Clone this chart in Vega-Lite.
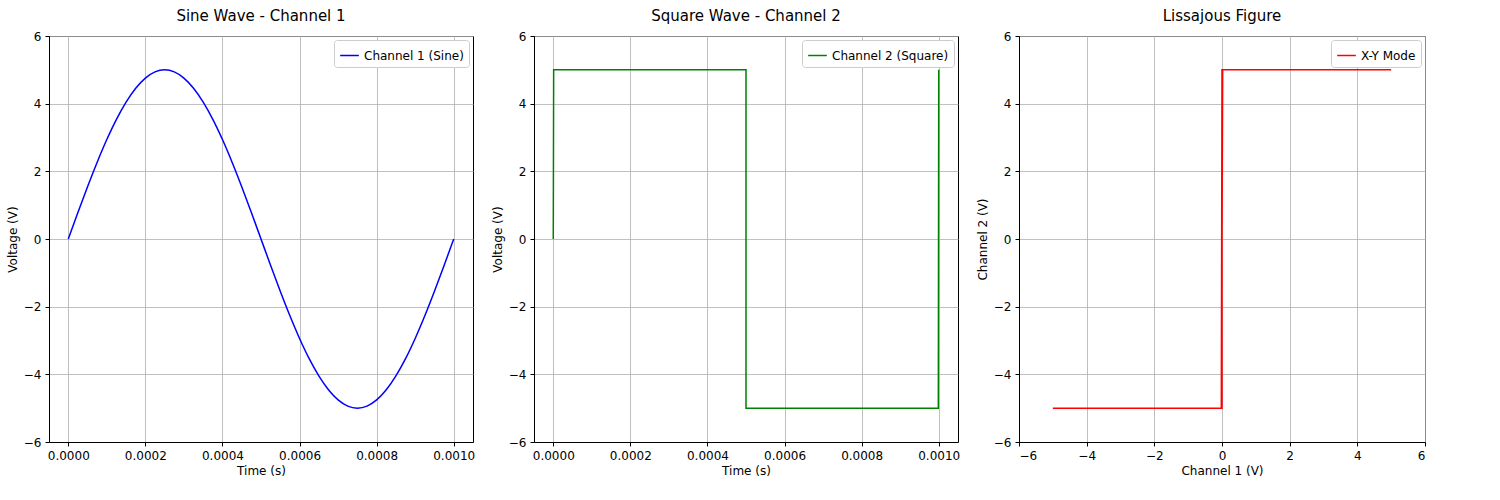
{
"$schema":"https://vega.github.io/schema/vega-lite/v6.json",
"background":"white",
"padding":{"left":5,"top":8,"right":5,"bottom":5},
"spacing":14,
"config":{
 "font":"DejaVu Sans",
 "view":{"stroke":"black","strokeWidth":1},
 "axis":{"grid":true,"gridColor":"#b0b0b0","gridOpacity":1,"gridWidth":0.8,"domainColor":"black","tickColor":"black","labelColor":"black","titleColor":"black","labelFontSize":12,"titleFontSize":12,"titleFontWeight":"normal","labelFont":"DejaVu Sans","titleFont":"DejaVu Sans","tickSize":4,"labelPadding":4},
 "title":{"fontSize":15,"fontWeight":"normal","font":"DejaVu Sans","offset":6},
 "legend":{"orient":"top-right","offset":4,"strokeColor":"#cccccc","fillColor":"white","padding":5,"cornerRadius":3,"symbolType":"stroke","symbolStrokeWidth":1.5,"symbolSize":350,"labelFontSize":12,"labelFont":"DejaVu Sans","title":null}
},
"datasets":{
 "sine":[
 {"t":0,"v":0},{"t":0.000025,"v":0.782},{"t":0.00005,"v":1.545},{"t":0.000075,"v":2.27},{"t":0.0001,"v":2.939},{"t":0.000125,"v":3.536},{"t":0.00015,"v":4.045},{"t":0.000175,"v":4.455},{"t":0.0002,"v":4.755},{"t":0.000225,"v":4.938},{"t":0.00025,"v":5},
 {"t":0.000275,"v":4.938},{"t":0.0003,"v":4.755},{"t":0.000325,"v":4.455},{"t":0.00035,"v":4.045},{"t":0.000375,"v":3.536},{"t":0.0004,"v":2.939},{"t":0.000425,"v":2.27},{"t":0.00045,"v":1.545},{"t":0.000475,"v":0.782},{"t":0.0005,"v":0},
 {"t":0.000525,"v":-0.782},{"t":0.00055,"v":-1.545},{"t":0.000575,"v":-2.27},{"t":0.0006,"v":-2.939},{"t":0.000625,"v":-3.536},{"t":0.00065,"v":-4.045},{"t":0.000675,"v":-4.455},{"t":0.0007,"v":-4.755},{"t":0.000725,"v":-4.938},{"t":0.00075,"v":-5},
 {"t":0.000775,"v":-4.938},{"t":0.0008,"v":-4.755},{"t":0.000825,"v":-4.455},{"t":0.00085,"v":-4.045},{"t":0.000875,"v":-3.536},{"t":0.0009,"v":-2.939},{"t":0.000925,"v":-2.27},{"t":0.00095,"v":-1.545},{"t":0.000975,"v":-0.782},{"t":0.001,"v":0}],
 "square":[{"o":0,"t":0,"v":0},{"o":1,"t":0.000001,"v":5},{"o":2,"t":0.0005,"v":5},{"o":3,"t":0.0005,"v":-5},{"o":4,"t":0.000999,"v":-5},{"o":5,"t":0.001,"v":5}],
 "xy":[{"o":0,"x":0,"y":0},{"o":1,"x":0.02,"y":5},{"o":2,"x":5,"y":5},{"o":3,"x":0,"y":5},{"o":4,"x":-0.02,"y":-5},{"o":5,"x":-5,"y":-5},{"o":6,"x":0,"y":-5},{"o":7,"x":0,"y":5}]
},
"hconcat":[
 {"width":424,"height":406,"title":"Sine Wave - Channel 1","data":{"name":"sine"},
  "transform":[{"calculate":"'Channel 1 (Sine)'","as":"s"}],
  "mark":{"type":"line","strokeWidth":1.5,"clip":true,"interpolate":"monotone"},
  "encoding":{
   "x":{"field":"t","type":"quantitative","scale":{"domain":[-0.00005,0.00105],"nice":false,"zero":false},"axis":{"values":[0,0.0002,0.0004,0.0006,0.0008,0.001],"format":".4f","title":"Time (s)"}},
   "y":{"field":"v","type":"quantitative","scale":{"domain":[-6,6],"nice":false},"axis":{"values":[-6,-4,-2,0,2,4,6],"title":"Voltage (V)"}},
   "color":{"field":"s","type":"nominal","scale":{"range":["blue"]}}}},
 {"width":424,"height":406,"title":"Square Wave - Channel 2","data":{"name":"square"},
  "transform":[{"calculate":"'Channel 2 (Square)'","as":"s"}],
  "mark":{"type":"line","strokeWidth":1.5,"clip":true},
  "encoding":{
   "x":{"field":"t","type":"quantitative","scale":{"domain":[-0.00005,0.00105],"nice":false,"zero":false},"axis":{"values":[0,0.0002,0.0004,0.0006,0.0008,0.001],"format":".4f","title":"Time (s)"}},
   "y":{"field":"v","type":"quantitative","scale":{"domain":[-6,6],"nice":false},"axis":{"values":[-6,-4,-2,0,2,4,6],"title":"Voltage (V)"}},
   "order":{"field":"o"},
   "color":{"field":"s","type":"nominal","scale":{"range":["green"]}}}},
 {"width":406,"height":406,"title":"Lissajous Figure","data":{"name":"xy"},
  "transform":[{"calculate":"'X-Y Mode'","as":"s"}],
  "mark":{"type":"line","strokeWidth":1.5,"clip":true},
  "encoding":{
   "x":{"field":"x","type":"quantitative","scale":{"domain":[-6,6],"nice":false},"axis":{"values":[-6,-4,-2,0,2,4,6],"title":"Channel 1 (V)"}},
   "y":{"field":"y","type":"quantitative","scale":{"domain":[-6,6],"nice":false},"axis":{"values":[-6,-4,-2,0,2,4,6],"title":"Channel 2 (V)"}},
   "order":{"field":"o"},
   "color":{"field":"s","type":"nominal","scale":{"range":["red"]}}}}
],
"resolve":{"scale":{"color":"independent"}}
}
